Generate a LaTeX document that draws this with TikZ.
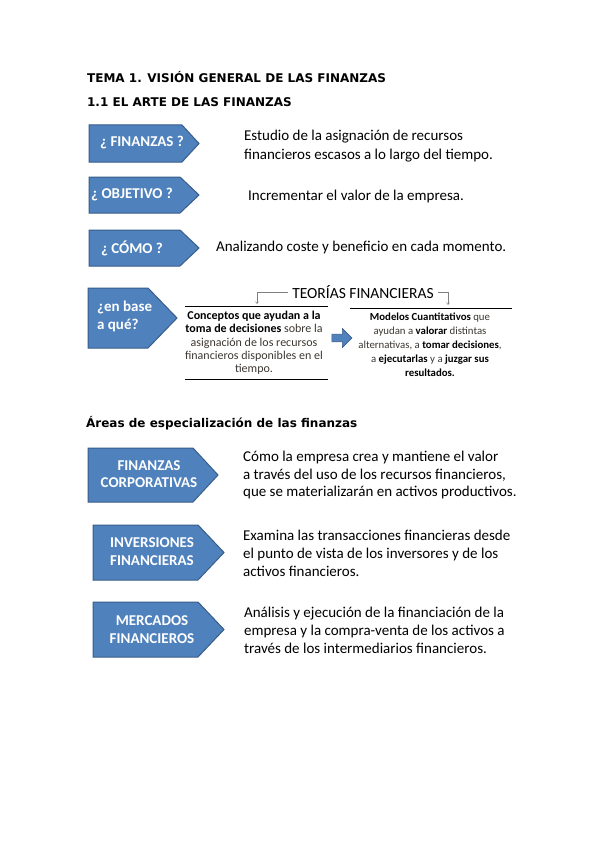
\documentclass[tikz,border=0pt]{standalone}
\usepackage{fontspec}
\setmainfont{Carlito}
\newfontfamily\dejavu{DejaVu Sans}
\usetikzlibrary{arrows.meta,shapes.arrows}

\definecolor{azul}{RGB}{79,129,189}
\definecolor{azulborde}{RGB}{56,93,138}
\definecolor{gristexto}{RGB}{60,55,50}

\tikzset{every picture/.style={line width=0.75pt}}
\tikzset{
  flecha/.style={fill=azul, draw=azulborde, line width=1pt},
  etiqueta/.style={text=white, font=\bfseries\fontsize{15}{18}\selectfont, inner sep=0.75pt, align=center},
  encabezado/.style={anchor=west, inner sep=0.75pt, font=\dejavu\bfseries\fontsize{12}{14}\selectfont},
  texto/.style={anchor=west, align=left, inner sep=0.75pt, font=\fontsize{15}{19}\selectfont},
  teoria/.style={align=center, inner sep=0.75pt, text=gristexto},
  guia/.style={draw=gray, line width=0.5pt, -{Straight Barb[length=2pt,width=3pt]}}
}

\begin{document}
\begin{tikzpicture}[x=1pt,y=1pt,yscale=-1,xscale=1]
\fill[white] (0,0) rectangle (599,848);
\useasboundingbox (0,0) rectangle (599,848);

% Headings
\draw (86,77) node [encabezado] (tema) {TEMA 1. VISIÓN GENERAL DE LAS FINANZAS};
\draw (86,102) node [encabezado] (arte) {1.1 EL ARTE DE LAS FINANZAS};

%Shape: Pentagon
\draw [flecha] (89,125) -- (182,125) -- (199,143.5) -- (182,162) -- (89,162) -- cycle ;
\draw (142,143) node [etiqueta] (finanzas) {¿ FINANZAS ?};
%Shape: Pentagon
\draw [flecha] (89,177) -- (180,177) -- (199,195) -- (180,213) -- (89,213) -- cycle ;
\draw (132,195) node [etiqueta] (objetivo) {¿ OBJETIVO ?};
%Shape: Pentagon
\draw [flecha] (89,230) -- (180,230) -- (199,248) -- (180,266) -- (89,266) -- cycle ;
\draw (132,248) node [etiqueta] (como) {¿ CÓMO ?};

% Text Node
\draw (243,146) node [texto] (estudio) {Estudio de la asignación de recursos\\financieros escasos a lo largo del tiempo.};
% Text Node
\draw (247,196.5) node [texto] (incrementar) {Incrementar el valor de la empresa.};
% Text Node
\draw (215,247.5) node [texto] (analizando) {Analizando coste y beneficio en cada momento.};

%Shape: Pentagon
\draw [flecha] (88,288) -- (148,288) -- (177,318) -- (148,348) -- (88,348) -- cycle ;
\draw (96,316.5) node [etiqueta, anchor=west, align=left] (enbase) {¿en base\\a qué?};

% Text Node
\draw (363,292) node [inner sep=4pt, font=\fontsize{15.5}{17}\selectfont] (teorias) {TEORÍAS FINANCIERAS};
\coordinate (conceptos-top) at (257,304);
\coordinate (modelos-top) at (448,305);
\draw [guia] (teorias.west) -| (conceptos-top);
\draw [guia] (teorias.east) -| (modelos-top);

%Straight Lines
\draw [line width=1pt] (185,306) -- (328,306) ;
\draw [line width=1pt] (185,379) -- (328,379) ;
\draw [line width=1pt] (350,308) -- (512,308) ;

% Text Node
\draw (254,343) node [teoria, font=\fontsize{12}{13.3}\selectfont] (conceptos) {\textbf{\color{black}Conceptos que ayudan a la}\\\textbf{\color{black}toma de decisiones} sobre la\\asignación de los recursos\\financieros disponibles en el\\tiempo.};
% Text Node
\draw (430,345) node [teoria, font=\fontsize{10.8}{14}\selectfont] (modelos) {\textbf{\color{black}Modelos Cuantitativos} que\\ayudan a \textbf{\color{black}valorar} distintas\\alternativas, a \textbf{\color{black}tomar decisiones},\\a \textbf{\color{black}ejecutarlas} y a \textbf{\color{black}juzgar sus}\\\textbf{\color{black}resultados.}};

%Shape: Block Arrow
\draw (340,338) node [single arrow, fill=azul, draw=azulborde, line width=0.6pt, minimum height=20pt, minimum width=19pt, single arrow head extend=2pt, inner sep=1pt] (paso) {};

% Heading
\draw (85,423) node [encabezado] (areas) {Áreas de especialización de las finanzas};

%Shape: Pentagon
\draw [flecha] (88,448) -- (193,448) -- (218,475) -- (193,502) -- (88,502) -- cycle ;
\draw (149,474.5) node [etiqueta, font=\bfseries\fontsize{15}{17}\selectfont] (corporativas) {FINANZAS\\CORPORATIVAS};
%Shape: Pentagon
\draw [flecha] (93,525) -- (198,525) -- (224,552.5) -- (198,580) -- (93,580) -- cycle ;
\draw (152,552) node [etiqueta] (inversiones) {INVERSIONES\\FINANCIERAS};
%Shape: Pentagon
\draw [flecha] (93,602) -- (198,602) -- (224,629.5) -- (198,657) -- (93,657) -- cycle ;
\draw (152,630) node [etiqueta] (mercados) {MERCADOS\\FINANCIEROS};

% Text Node
\draw (242,475) node [texto, font=\fontsize{15}{17.8}\selectfont] (como-crea) {Cómo la empresa crea y mantiene el valor\\a través del uso de los recursos financieros,\\que se materializarán en activos productivos.};
% Text Node
\draw (242,553) node [texto, font=\fontsize{15}{18}\selectfont] (examina) {Examina las transacciones financieras desde\\el punto de vista de los inversores y de los\\activos financieros.};
% Text Node
\draw (243,630) node [texto, font=\fontsize{15}{18}\selectfont] (analisis) {Análisis y ejecución de la financiación de la\\empresa y la compra-venta de los activos a\\través de los intermediarios financieros.};

\end{tikzpicture}
\end{document}
